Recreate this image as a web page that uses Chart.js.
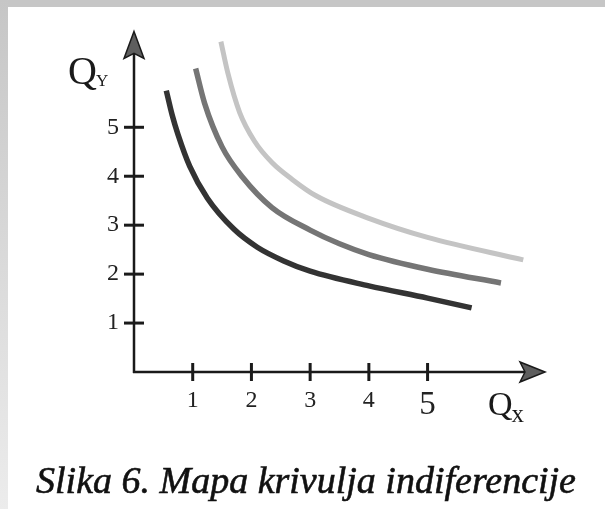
<!DOCTYPE html>
<html><head><meta charset="utf-8">
<script src="https://cdn.jsdelivr.net/npm/chart.js@4"></script>
<style>html,body{margin:0;padding:0;background:#fff}#wrap{width:605px;height:509px;position:relative}</style>
</head><body><div id="wrap"><canvas id="c" width="605" height="509"></canvas></div>
<script>
// ---- data ----
const tickValues = [1, 2, 3, 4, 5];
const xTickLabels = ['1', '2', '3', '4', '5'];
const yTickLabels = ['1', '2', '3', '4', '5'];

const curve1X = [0.55, 0.65, 0.75, 0.95, 1.25, 1.7, 2.1, 2.55, 3.0, 4.0, 5.0, 5.75];
const curve1Y = [5.75, 5.25, 4.85, 4.2, 3.55, 2.92, 2.55, 2.27, 2.06, 1.76, 1.51, 1.31];

const curve2X = [1.05, 1.2, 1.5, 1.85, 2.35, 3.0, 3.5, 4.0, 5.0, 6.25];
const curve2Y = [6.2, 5.5, 4.6, 3.98, 3.36, 2.9, 2.62, 2.4, 2.1, 1.82];

const curve3X = [1.48, 1.6, 1.8, 2.05, 2.35, 2.7, 3.1, 4.0, 5.0, 6.63];
const curve3Y = [6.75, 6.1, 5.3, 4.72, 4.28, 3.93, 3.6, 3.14, 2.75, 2.29];

const xAxisTitle = 'Q', xAxisSub = 'x';
const yAxisTitle = 'Q', yAxisSub = 'Y';
const caption = 'Slika 6. Mapa krivulja indiferencije';

const pts = (xs, ys) => xs.map((x, i) => ({ x: x, y: ys[i] }));

const SERIF = '"Liberation Serif", "DejaVu Serif", serif';

const framePlugin = {
  id: 'frame',
  beforeDraw(chart) {
    const ctx = chart.ctx;
    ctx.save();
    ctx.fillStyle = '#ffffff';
    ctx.fillRect(0, 0, chart.width, chart.height);
    ctx.fillStyle = '#c6c6c6';
    ctx.fillRect(0, 0, chart.width, 7);
    const g = ctx.createLinearGradient(0, 0, 0, chart.height);
    g.addColorStop(0, '#c6c6c6');
    g.addColorStop(1, '#ececec');
    ctx.fillStyle = g;
    ctx.fillRect(0, 0, 8, chart.height);
    ctx.restore();
  }
};

const axesPlugin = {
  id: 'axesDraw',
  beforeDatasetsDraw(chart) {
    const ctx = chart.ctx;
    const xs = chart.scales.x, ys = chart.scales.y;
    const x0 = xs.getPixelForValue(0), y0 = ys.getPixelForValue(0);
    const xEnd = xs.getPixelForValue(xs.max), yEnd = ys.getPixelForValue(ys.max) + 2;
    ctx.save();
    ctx.strokeStyle = '#1a1a1a';
    ctx.lineWidth = 2.5;
    ctx.lineCap = 'butt';
    ctx.beginPath();
    ctx.moveTo(x0, y0 + 1);
    ctx.lineTo(x0, yEnd + 20);
    ctx.moveTo(x0 - 1, y0);
    ctx.lineTo(xEnd - 18, y0);
    ctx.stroke();
    // tick crosses
    ctx.lineWidth = 3;
    tickValues.forEach(v => {
      const py = ys.getPixelForValue(v);
      ctx.beginPath(); ctx.moveTo(x0 - 10, py); ctx.lineTo(x0 + 10, py); ctx.stroke();
      const px = xs.getPixelForValue(v);
      ctx.beginPath(); ctx.moveTo(px, y0 - 9); ctx.lineTo(px, y0 + 9); ctx.stroke();
    });
    // arrowheads
    ctx.fillStyle = '#5e5e5e';
    ctx.lineWidth = 1.5;
    ctx.beginPath();
    ctx.moveTo(x0, yEnd);
    ctx.lineTo(x0 + 10, yEnd + 27);
    ctx.lineTo(x0, yEnd + 22);
    ctx.lineTo(x0 - 10, yEnd + 27);
    ctx.closePath(); ctx.fill(); ctx.stroke();
    ctx.beginPath();
    ctx.moveTo(xEnd, y0);
    ctx.lineTo(xEnd - 25, y0 - 10);
    ctx.lineTo(xEnd - 20, y0);
    ctx.lineTo(xEnd - 25, y0 + 10);
    ctx.closePath(); ctx.fill(); ctx.stroke();
    // axis titles
    ctx.fillStyle = '#1a1a1a';
    ctx.textBaseline = 'alphabetic';
    ctx.textAlign = 'left';
    ctx.font = '40px ' + SERIF;
    ctx.fillText(yAxisTitle, x0 - 66, yEnd + 53);
    const qw = ctx.measureText(yAxisTitle).width;
    ctx.font = '17px ' + SERIF;
    ctx.fillText(yAxisSub, x0 - 66 + qw - 1, yEnd + 55);
    ctx.font = '34px ' + SERIF;
    ctx.fillText(xAxisTitle, xEnd - 57, y0 + 43);
    const qw2 = ctx.measureText(xAxisTitle).width;
    ctx.font = '25px ' + SERIF;
    ctx.fillText(xAxisSub, xEnd - 57 + qw2 - 1, y0 + 50);
    // caption
    ctx.font = 'italic 38px ' + SERIF;
    ctx.textAlign = 'center';
    ctx.fillStyle = '#111';
    ctx.strokeStyle = '#111';
    ctx.lineWidth = 0.6;
    ctx.fillText(caption, 306, 493);
    ctx.strokeText(caption, 306, 493);
    ctx.restore();
  }
};

const lineDs = (label, xs, ys, color, w) => ({
  label: label,
  data: pts(xs, ys),
  showLine: true,
  borderColor: color,
  borderWidth: w,
  pointRadius: 0,
  fill: false,
  cubicInterpolationMode: 'monotone',
  borderCapStyle: 'butt'
});

function build() {
  new Chart(document.getElementById('c'), {
    type: 'scatter',
    data: {
      datasets: [
        lineDs('I1', curve1X, curve1Y, '#333333', 5.5),
        lineDs('I2', curve2X, curve2Y, '#757575', 5.5),
        lineDs('I3', curve3X, curve3Y, '#c4c4c4', 5)
      ]
    },
    options: {
      responsive: false,
      animation: false,
      devicePixelRatio: 1,
      layout: { padding: { left: 34, right: 60, top: 29, bottom: 77 } },
      plugins: { legend: { display: false }, tooltip: { enabled: false }, title: { display: false } },
      scales: {
        x: {
          type: 'linear', min: 0, max: 7,
          afterBuildTicks: s => { s.ticks = tickValues.map(v => ({ value: v })); },
          afterFit: s => { s.height = 60; },
          grid: { display: false, drawTicks: false },
          border: { display: false },
          ticks: {
            autoSkip: false, maxRotation: 0, padding: 14, color: '#222',
            callback: v => xTickLabels[tickValues.indexOf(v)],
            font: c => ({ family: SERIF, size: (c.tick && c.tick.value === 5) ? 33 : 24 })
          }
        },
        y: {
          type: 'linear', min: 0, max: 7,
          afterBuildTicks: s => { s.ticks = tickValues.map(v => ({ value: v })); },
          afterFit: s => { s.width = 100; },
          grid: { display: false, drawTicks: false },
          border: { display: false },
          ticks: {
            autoSkip: false, padding: 15, color: '#222',
            callback: v => yTickLabels[tickValues.indexOf(v)],
            font: { family: SERIF, size: 24 }
          }
        }
      }
    },
    plugins: [framePlugin, axesPlugin]
  });
}

const fontLoads = document.fonts && document.fonts.load
  ? Promise.all([
      document.fonts.load('24px "Liberation Serif"'),
      document.fonts.load('italic 38px "Liberation Serif"')
    ]).catch(() => null)
  : Promise.resolve();
fontLoads.then(build, build);
</script>
</body></html>
